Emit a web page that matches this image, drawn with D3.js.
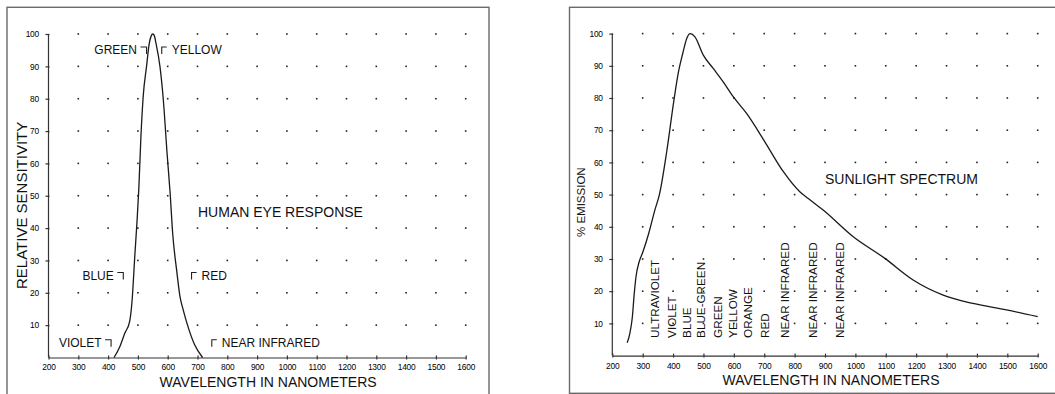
<!DOCTYPE html>
<html>
<head>
<meta charset="utf-8">
<script src="https://cdn.jsdelivr.net/npm/d3@7/dist/d3.min.js"></script>
<style>
  html, body { margin: 0; padding: 0; background: #fff; }
  svg { display: block; font-family: "Liberation Sans", Arial, sans-serif; }
  .tick text { font-size: 8.4px; fill: #000; letter-spacing: -0.2px; }
  .domain, .tick line { stroke: #333; stroke-width: 1.2; }
</style>
</head>
<body>
<svg id="chart" width="1055" height="394"></svg>
<script>
// Shared axis ticks
const wavelengthTicks = [200, 300, 400, 500, 600, 700, 800, 900, 1000, 1100, 1200, 1300, 1400, 1500, 1600];
const percentTicks = [10, 20, 30, 40, 50, 60, 70, 80, 90, 100];
const gridWavelengths = [300, 400, 500, 600, 700, 800, 900, 1000, 1100, 1200, 1300, 1400, 1500, 1600];

// Human eye response curve
const eyeWavelength = [420, 440, 456, 472, 480, 490, 497, 503, 510, 518, 529, 538, 545, 550, 555, 561, 574, 585, 598, 608, 617, 630, 641, 652, 670, 690, 717];
const eyeSensitivity = [0, 3.5, 7.5, 11, 17, 32, 42, 52, 68, 81, 90, 97, 99.5, 100, 99.5, 97, 90, 80, 63, 51, 38, 27, 19, 14.7, 9, 4, 0];

// Colour callouts on the eye chart
const eyeLabels = ["GREEN", "YELLOW", "BLUE", "RED", "VIOLET", "NEAR INFRARED"];
const eyeLabelWavelength = [529, 580, 451, 680, 410, 748];
const eyeLabelLevel = [93.8, 93.8, 24.1, 24.1, 3.3, 3.3];
const eyeLabelSide = ["left", "right", "left", "right", "left", "right"];

// Sunlight emission curve
const sunWavelength = [249, 258, 266, 272, 278, 288, 300, 320, 340, 355, 379, 403, 417, 432, 445, 456, 472, 499, 532, 565, 598, 642, 702, 763, 817, 845, 894, 993, 1097, 1190, 1289, 1387, 1497, 1600];
const sunEmission = [4, 7, 12, 19, 24.5, 29, 32, 38, 45.2, 50, 63.3, 79.4, 87.7, 93.9, 98.5, 100, 99, 93.4, 89.2, 85, 80.4, 75.2, 66.4, 57.1, 50.9, 48.8, 45.2, 36.9, 30.2, 23.5, 18.8, 16.2, 14.2, 12.1];

// Band names written up the sunlight chart
const bandLabels = ["ULTRAVIOLET", "VIOLET", "BLUE", "BLUE-GREEN", "GREEN", "YELLOW", "ORANGE", "RED", "NEAR INFRARED", "NEAR INFRARED", "NEAR INFRARED"];
const bandLabelWavelength = [340, 395, 445, 492, 547, 598, 645, 702, 766, 861, 947];
const bandLabelBase = 5.5;

const svg = d3.select("#chart");

function panel(opts) {
  const g = svg.append("g");
  // outer frame
  g.append("rect")
    .attr("x", opts.frame[0]).attr("y", opts.frame[1])
    .attr("width", opts.frame[2]).attr("height", opts.frame[3])
    .attr("fill", "none").attr("stroke", "#6a6a6a").attr("stroke-width", 1.4);

  const x = d3.scaleLinear().domain([200, 1600]).range([opts.left, opts.right]);
  const y = d3.scaleLinear().domain([0, 100]).range([opts.bottom, opts.top]);

  // dotted grid
  const pts = [];
  gridWavelengths.forEach(w => percentTicks.forEach(p => pts.push([w, p])));
  g.append("g").selectAll("rect").data(pts).join("rect")
    .attr("x", d => x(d[0]) - 0.8).attr("y", d => y(d[1]) - 0.8)
    .attr("width", 1.6).attr("height", 1.6).attr("fill", "#222");

  // axes
  const xAxis = g.append("g").attr("transform", `translate(0,${opts.bottom})`)
    .call(d3.axisBottom(x).tickValues(wavelengthTicks).tickFormat(d3.format("d"))
      .tickSize(2).tickSizeOuter(0).tickPadding(5));
  xAxis.selectAll(".tick line").attr("y1", -2).attr("y2", 2);
  const yAxis = g.append("g").attr("transform", `translate(${opts.left},0)`)
    .call(d3.axisLeft(y).tickValues(percentTicks).tickFormat(d3.format("d"))
      .tickSize(3).tickSizeOuter(0).tickPadding(6.5));
  yAxis.select(".domain").attr("d", `M0,${y(0)}V${y(100)}`);
  yAxis.selectAll(".tick line").attr("x1", -3).attr("x2", 1);

  // curve
  const line = d3.line().x(d => x(d[0])).y(d => y(d[1])).curve(d3.curveMonotoneX);
  g.append("path").datum(d3.zip(opts.xs, opts.ys)).attr("d", line)
    .attr("fill", "none").attr("stroke", "#1a1a1a").attr("stroke-width", 1.3);

  // axis titles
  g.append("text").attr("x", (opts.left + opts.right) / 2 + opts.titleShift).attr("y", opts.bottom + 29.5)
    .attr("text-anchor", "middle").attr("font-size", 14).attr("fill", "#111")
    .text("WAVELENGTH IN NANOMETERS");
  g.append("text")
    .attr("transform", `translate(${opts.yTitle[0]},${opts.yTitle[1]}) rotate(-90)`)
    .attr("text-anchor", "start").attr("dy", "0.36em")
    .attr("font-size", opts.yTitle[3]).attr("fill", "#111")
    .text(opts.yTitle[2]);

  return { g, x, y };
}

// ---- Human eye response ----
const eye = panel({
  frame: [7, 7.3, 482, 420],
  left: 48.5, right: 465.7, top: 34, bottom: 357.5,
  xs: eyeWavelength, ys: eyeSensitivity, titleShift: 11,
  yTitle: [21.5, 289, "RELATIVE SENSITIVITY", 15]
});
eye.g.append("text").attr("x", 198).attr("y", 216.5).attr("font-size", 14).attr("fill", "#111")
  .text("HUMAN EYE RESPONSE");

eyeLabels.forEach((lab, i) => {
  const cx = eye.x(eyeLabelWavelength[i]);
  const base = eye.y(eyeLabelLevel[i]);
  const top = base - 7;
  const left = eyeLabelSide[i] === "left";
  const path = left
    ? `M${cx - 6},${top}H${cx}V${top + 7}`
    : `M${cx + 5},${top}H${cx}V${top + 7}`;
  eye.g.append("path").attr("d", path).attr("fill", "none").attr("stroke", "#222").attr("stroke-width", 1.1);
  eye.g.append("text")
    .attr("x", left ? cx - 9.5 : cx + 10).attr("y", base)
    .attr("text-anchor", left ? "end" : "start")
    .attr("font-size", 12).attr("fill", "#111").text(lab);
});

// ---- Sunlight spectrum ----
const sun = panel({
  frame: [569.5, 7.3, 520, 386],
  left: 612.3, right: 1037.7, top: 33.6, bottom: 355.6,
  xs: sunWavelength, ys: sunEmission, titleShift: 6,
  yTitle: [581, 237, "% EMISSION", 11.5]
});
sun.g.append("text").attr("x", 825).attr("y", 184).attr("font-size", 14).attr("fill", "#111")
  .text("SUNLIGHT SPECTRUM");

bandLabels.forEach((lab, i) => {
  sun.g.append("text")
    .attr("transform", `translate(${sun.x(bandLabelWavelength[i])},${sun.y(bandLabelBase)}) rotate(-90)`)
    .attr("dy", "0.36em").attr("font-size", 11.7).attr("fill", "#111")
    .text(lab);
});
</script>
</body>
</html>
